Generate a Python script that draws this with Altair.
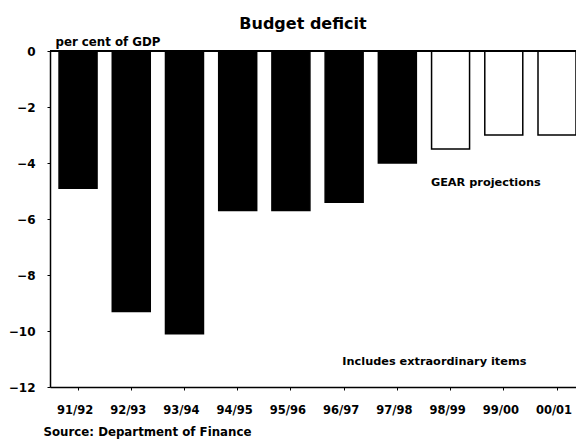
import altair as alt
import pandas as pd

years = ["91/92", "92/93", "93/94", "94/95", "95/96", "96/97", "97/98", "98/99", "99/00", "00/01"]
deficit = [-4.9, -9.3, -10.1, -5.7, -5.7, -5.4, -4.0, -3.5, -3.0, -3.0]
kind = ["actual"] * 7 + ["projection"] * 3
y_ticks = [0, -2, -4, -6, -8, -10, -12]

note_year = ["99/00", "97/98"]
note_value = [-4.7, -11.1]
note_label = ["GEAR projections", "Includes extraordinary items"]

df = pd.DataFrame({"year": years, "deficit": deficit, "kind": kind})
notes = pd.DataFrame({"year": note_year, "value": note_value, "label": note_label})

FONT = "DejaVu Sans"

x_scale = alt.Scale(paddingInner=0.286, paddingOuter=0.085, align=1)

x_enc = alt.X(
    "year:N", sort=years, scale=x_scale,
    axis=alt.Axis(
        title="Source: Department of Finance", titleAnchor="start", titleAlign="left",
        titleX=-7, titleY=39, titleFontSize=11.8, titleFontWeight="bold", titleFont=FONT,
        labelAngle=0, labelFontSize=11.5, labelFontWeight="bold", labelFont=FONT,
        labelPadding=14, labelOffset=-3, tickSize=3, domainColor="black", tickColor="black",
        labelColor="black", titleColor="black", domainWidth=1.5,
    ),
)

y_enc = alt.Y(
    "deficit:Q",
    scale=alt.Scale(domain=[-12, 0], nice=False),
    axis=alt.Axis(
        values=y_ticks, format="d", title="per cent of GDP", titleAngle=0,
        titleAlign="left", titleX=5, titleY=-6, titleBaseline="alphabetic",
        titleFontSize=11.8, titleFontWeight="bold", titleFont=FONT,
        labelFontSize=12, labelFontWeight="bold", labelFont=FONT, labelPadding=12,
        tickSize=3, grid=False, domainColor="black", tickColor="black",
        labelColor="black", titleColor="black", domainWidth=1.5,
    ),
)

bars = alt.Chart(df).mark_bar(stroke="black", strokeWidth=1.5).encode(
    x=x_enc,
    y=y_enc,
    fill=alt.Fill("kind:N", scale=alt.Scale(domain=["actual", "projection"], range=["black", "white"]), legend=None),
)

zero = alt.Chart(df).mark_rule(color="black", strokeWidth=1.5).encode(y=alt.datum(0))

text1 = alt.Chart(notes.iloc[[0]]).mark_text(font=FONT, fontWeight="bold", fontSize=11.3, color="black", dx=-18).encode(
    x=alt.X("year:N", sort=years), y="value:Q", text="label:N")
text2 = alt.Chart(notes.iloc[[1]]).mark_text(font=FONT, fontWeight="bold", fontSize=11.3, color="black", dx=37).encode(
    x=alt.X("year:N", sort=years), y="value:Q", text="label:N")

chart = alt.layer(bars, zero, text1, text2).properties(
    width=526, height=336,
    title=alt.TitleParams("Budget deficit", font=FONT, fontSize=16, fontWeight="bold",
                          color="black", anchor="middle", offset=4, dx=-10),
    autosize=alt.AutoSizeParams(type="none"),
    padding={"left": 50, "top": 51, "right": 0, "bottom": 55},
).configure_view(stroke=None).configure(background="white")

chart.save("out.html", embed_options={"renderer": "svg", "actions": False})
